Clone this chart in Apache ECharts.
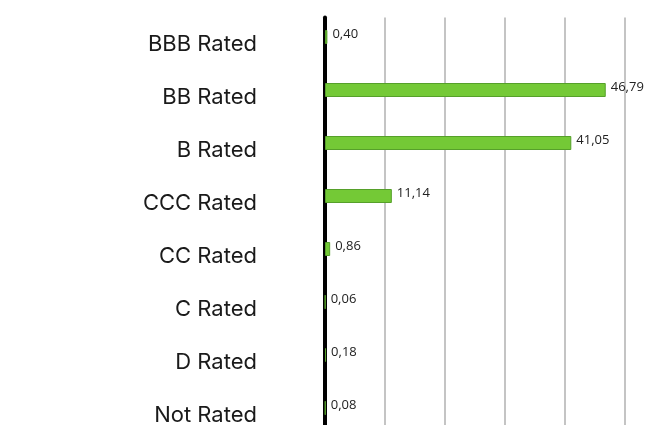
<!DOCTYPE html>
<html>
<head>
<meta charset="utf-8">
<script src="https://cdn.jsdelivr.net/npm/echarts@6/dist/echarts.min.js"></script>
<style>
  html, body { margin: 0; padding: 0; background: #fff; overflow: hidden; }
  #chart { width: 662px; height: 442px; }
</style>
</head>
<body>
<div id="chart"></div>
<script>
const categories = ["BBB Rated", "BB Rated", "B Rated", "CCC Rated", "CC Rated", "C Rated", "D Rated", "Not Rated"];
const shares = [0.40, 46.79, 41.05, 11.14, 0.86, 0.06, 0.18, 0.08];
const emptySlot = categories.map(() => "-");

const chart = echarts.init(document.getElementById("chart"));

chart.setOption({
  animation: false,
  grid: { left: 325, right: 37, top: 17.5, bottom: 0.5 },
  xAxis: {
    type: "value",
    min: 0,
    max: 50,
    interval: 10,
    axisLine: { show: false },
    axisTick: { show: false },
    axisLabel: { show: false },
    splitLine: { lineStyle: { color: "#c4c4c4", width: 2 } },
  },
  yAxis: {
    type: "category",
    inverse: true,
    data: categories,
    axisLine: { lineStyle: { color: "#000", width: 4 } },
    axisTick: { show: false },
    axisLabel: {
      margin: 68,
      color: "#1a1a1a",
      fontFamily: "Inter",
      fontSize: 22,
    },
  },
  series: [
    {
      type: "bar",
      data: shares,
      barWidth: 14,
      barGap: 0,
      itemStyle: { color: "#74c936", borderColor: "#56a02a", borderWidth: 1 },
      label: {
        show: true,
        position: "right",
        distance: 5,
        offset: [0, -3],
        color: "#222",
        fontFamily: "Open Sans",
        fontSize: 13,
        formatter: (p) => p.value.toFixed(2).replace(".", ","),
      },
      z: 1,
    },
    {
      type: "bar",
      data: emptySlot,
      barWidth: 14,
      silent: true,
    },
  ],
});
</script>
</body>
</html>
